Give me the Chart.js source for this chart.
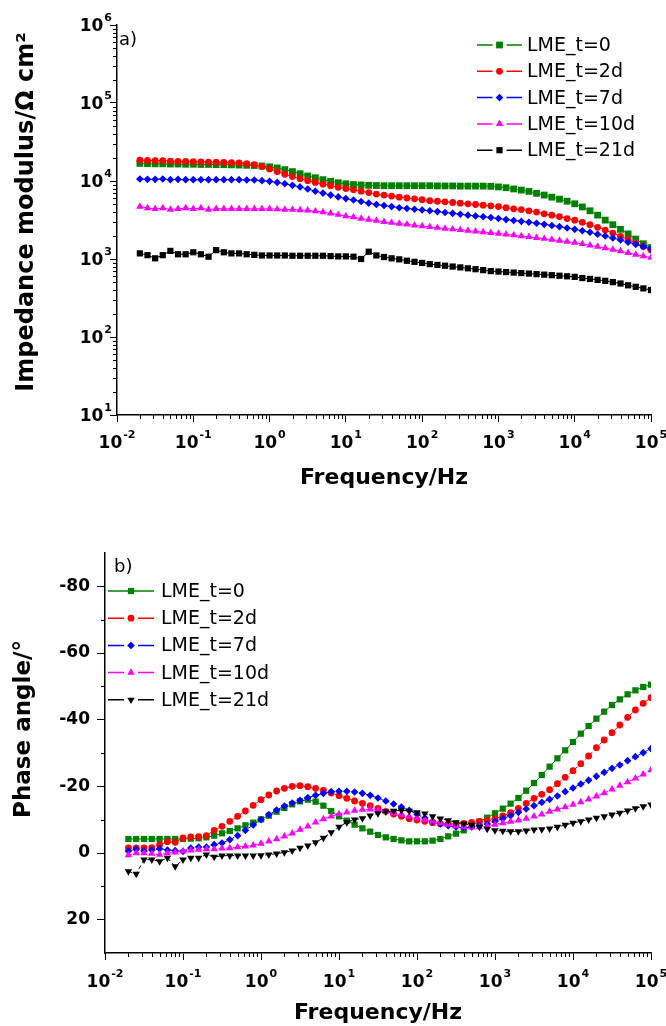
<!DOCTYPE html>
<html lang="en">
<head>
<meta charset="UTF-8">
<title>LME impedance spectra</title>
<script src="https://cdn.jsdelivr.net/npm/chart.js"></script>
<style>
  body { margin: 0; background: #fff; }
  canvas { position: absolute; left: 0; }
</style>
</head>
<body>
<canvas id="modulusChart" width="666" height="505" style="top:0"></canvas>
<canvas id="phaseChart" width="666" height="521" style="top:505px"></canvas>
<script>
// measured frequencies, Hz (10 points per decade)
const frequency = [0.01995, 0.02512, 0.03162, 0.03981, 0.05012, 0.0631, 0.07943,
  0.1, 0.1259, 0.1585, 0.1995, 0.2512, 0.3162, 0.3981, 0.5012, 0.631, 0.7943,
  1, 1.259, 1.585, 1.995, 2.512, 3.162, 3.981, 5.012, 6.31, 7.943,
  10, 12.59, 15.85, 19.95, 25.12, 31.62, 39.81, 50.12, 63.1, 79.43,
  100, 125.9, 158.5, 199.5, 251.2, 316.2, 398.1, 501.2, 631, 794.3,
  1000, 1259, 1585, 1995, 2512, 3162, 3981, 5012, 6310, 7943,
  10000, 12590, 15850, 19950, 25120, 31620, 39810, 50120, 63100, 79430, 100000];

const seriesLabels = ["LME_t=0", "LME_t=2d", "LME_t=7d", "LME_t=10d", "LME_t=21d"];

// |Z|, ohm cm2
const modulusT0 = [16800, 16700, 16600, 16600, 16500, 16500, 16400, 16400, 16300, 16300, 16200, 16200, 16100, 16000, 15900, 15800,
  15600, 15200, 14700, 14000, 13200, 12400, 11600, 11000, 10400, 9900, 9500, 9200, 9000, 8900, 8800, 8750,
  8700, 8700, 8700, 8700, 8700, 8700, 8700, 8650, 8650, 8650, 8600, 8600, 8600, 8600,
  8550, 8400, 8200, 7900, 7650, 7350, 6950, 6600, 6200, 5850, 5500, 5100, 4650, 4150, 3650, 3150, 2750, 2400, 2100, 1800, 1570, 1400];
const modulusT2 = [18500, 18400, 18200, 18300, 18000, 17900, 17800, 17700, 17600, 17500, 17400, 17300, 17200, 17000, 16700,
  16200, 15300, 14300, 13200, 12200, 11400, 10700, 10100, 9600, 9100, 8700, 8300, 8000, 7700, 7400, 7100,
  6800, 6600, 6400, 6200, 6050, 5900, 5750, 5600, 5500, 5400, 5300, 5200, 5100, 5000, 4900, 4800,
  4700, 4550, 4400, 4300, 4150, 4000, 3800, 3650, 3500, 3300, 3150, 2950, 2750, 2550, 2350, 2150, 1950, 1780, 1600, 1450, 1300];
const modulusT7 = [10600, 10500, 10500, 10600, 10400, 10500, 10400, 10400, 10400, 10400, 10400, 10400, 10400, 10400, 10300, 10300,
  10100, 9900, 9600, 9200, 8800, 8400, 7900, 7400, 7000, 6600, 6250, 5950, 5700, 5450, 5200, 5000,
  4850, 4700, 4550, 4450, 4350, 4250, 4150, 4050, 3950, 3850, 3750, 3650, 3560, 3480, 3400, 3300,
  3200, 3120, 3040, 2960, 2870, 2780, 2690, 2600, 2500, 2400, 2300, 2200, 2080, 1970, 1860, 1750, 1640, 1540, 1440, 1350];
const modulusT10 = [4700, 4500, 4400, 4500, 4300, 4400, 4500, 4400, 4500, 4300, 4400, 4400, 4400, 4400, 4400, 4400, 4400, 4400, 4350, 4300, 4300, 4250,
  4200, 4100, 4000, 3850, 3700, 3550, 3450, 3300, 3200, 3100, 3000, 2920, 2850, 2780, 2700, 2640, 2580, 2520, 2460, 2410, 2360, 2310, 2260, 2220,
  2170, 2120, 2070, 2020, 1970, 1920, 1870, 1820, 1770, 1720, 1670, 1620, 1560, 1500, 1440, 1380, 1320, 1260, 1200, 1140, 1090, 1040];
const modulusT21 = [1180, 1120, 1020, 1120, 1270, 1150, 1150, 1220, 1150, 1070, 1300, 1220, 1180, 1180, 1150, 1130, 1110,
  1110, 1110, 1110, 1100, 1100, 1100, 1100, 1100, 1090, 1080, 1080, 1070, 1000, 1240,
  1110, 1060, 1020, 990, 950, 920, 890, 860, 840, 820, 800, 780, 760, 740, 720, 700, 690, 680, 670, 660, 650, 640,
  630, 620, 610, 600, 590, 570, 555, 540, 525, 505, 485, 460, 440, 420, 400];

// phase angle, degrees
const phaseT0 = [-4.2, -4.2, -4.2, -4.2, -4.2, -4.2, -4.2, -4.2, -4.3, -4.4,
  -4.7, -5.2, -5.9, -6.6, -7.4, -8.3, -9.1, -10.1, -11.2, -12.4, -13.5, -14.6, -15.5, -16.0,
  -15.4, -14.2, -12.6, -11.0, -9.7, -8.5, -7.4, -6.4, -5.4, -4.7, -4.2, -3.8, -3.5, -3.5, -3.5, -3.7, -4.2, -5.0, -5.8, -6.8,
  -8.2, -9.4, -10.6, -11.9, -13.3, -14.8, -16.5, -18.7, -21.0, -23.4, -25.9, -28.4, -30.8, -33.3, -35.8, -38.1, -40.3, -42.4, -44.4, -46.1, -47.6, -48.8, -49.8, -50.5];
const phaseT2 = [-1.5, -1.5, -1.5, -1.6, -2.5, -3.4, -3.2, -4.5, -4.8, -4.9, -5.2, -6.8, -8.0, -9.5, -11.0, -12.6, -14.3,
  -16.0, -17.4, -18.6, -19.4, -20.0, -20.2, -19.9, -19.4, -18.8, -18.0, -17.2, -16.4, -15.6, -14.9, -14.2, -13.4, -12.5,
  -11.7, -11.0, -10.3, -9.9, -9.5, -9.1, -8.8, -8.7, -8.7, -8.9, -9.2, -9.5, -9.8, -10.3, -11.1, -12.1, -13.4,
  -14.9, -16.4, -17.6, -19.0, -20.8, -22.7, -24.7, -26.8, -29.1, -31.6, -33.9, -36.1, -38.4, -40.7, -42.9, -44.9, -46.6];
const phaseT7 = [-0.6, -1.1, -0.6, -0.9, -1.3, -0.9, -0.7, -0.5, -1.5, -1.8, -1.8, -2.5, -3.0, -4.0, -5.2, -6.8, -8.4,
  -10.0, -11.5, -12.9, -14.1, -15.0, -15.8, -16.6, -17.3, -17.9, -18.4, -18.5, -18.5, -18.3, -17.9, -17.3, -16.5, -15.6,
  -14.7, -13.8, -12.8, -11.6, -10.5, -9.5, -8.7, -8.2, -7.8, -7.6, -7.8, -8.2, -8.7, -9.5, -10.3, -11.2, -12.2,
  -13.2, -14.2, -15.2, -16.1, -17.1, -18.4, -19.5, -20.7, -21.8, -23.0, -24.2, -25.4, -26.4, -27.7, -28.9, -30.1, -31.3];
const phaseT10 = [0.6, 0.0, 0.0, 0.2, 0.5, 0.0, -0.2, -0.5, -0.8, -1.0, -1.2, -1.2, -1.4, -1.5, -1.8, -2.0, -2.3,
  -2.8, -3.5, -4.2, -5.0, -5.9, -7.0, -8.0, -9.2, -10.2, -11.0, -11.7, -12.2, -12.7, -13.0, -13.1, -12.8, -12.5,
  -12.0, -11.5, -11.0, -10.5, -10.0, -9.5, -9.0, -8.5, -8.1, -7.8, -7.7, -7.8, -8.1, -8.5, -9.0, -9.4, -9.8,
  -10.3, -11.0, -11.6, -12.4, -13.1, -13.8, -14.5, -15.3, -16.1, -17.0, -18.0, -19.1, -20.2, -21.3, -22.4, -23.6, -24.9];
const phaseT21 = [5.5, 6.3, 2.0, 2.0, 2.5, 1.5, 4.0, 2.0, 1.5, 1.5, 0.5, 1.2, 0.8, 0.8, 0.8, 0.8, 0.8,
  0.7, 0.5, 0.2, -0.2, -0.7, -1.5, -2.2, -3.2, -4.5, -6.2, -7.8, -9.2, -10.0, -10.4, -11.2, -11.9, -12.4,
  -12.6, -12.8, -12.6, -12.2, -11.8, -11.0, -10.3, -9.8, -9.2, -8.8, -8.4, -7.8, -7.2, -6.8, -6.6, -6.5, -6.5,
  -6.7, -7.0, -7.1, -7.3, -7.8, -8.4, -9.0, -9.5, -10.0, -10.5, -11.0, -11.5, -12.0, -12.7, -13.4, -14.0, -14.5];

// axis ticks
const freqDecades = [0.01, 0.1, 1, 10, 100, 1000, 10000, 100000];
const modulusDecades = [10, 100, 1000, 10000, 100000, 1000000];
const phaseTicks = [-80, -60, -40, -20, 0, 20];
const phaseMinorTicks = [-70, -50, -30, -10, 10];

const colors = ["#008000", "#ff0000", "#0000ff", "#ff00ff", "#000000"];
const FONT = "DejaVu Sans";
Chart.defaults.font.family = FONT;
Chart.defaults.color = "#000";

function minorsOf(decades) {
  let out = [];
  decades.slice(0, -1).forEach(d => {
    for (let m = 2; m <= 9; m++) out.push(d * m);
  });
  return out;
}

function buildSets(values, markers, dashes) {
  return values.map((vals, k) => ({
    label: seriesLabels[k],
    data: frequency.map((f, i) => ({ x: f, y: vals[i] })),
    borderColor: colors[k],
    backgroundColor: colors[k],
    borderWidth: 1,
    borderDash: dashes[k],
    pointStyle: markers[k][0],
    pointRadius: markers[k][1],
    pointRotation: markers[k][2] || 0,
    pointBorderWidth: 0,
    pointBackgroundColor: colors[k],
    order: values.length - k
  }));
}

function drawPower(ctx, value, x, y, align) {
  const exp = String(Math.round(Math.log10(value)));
  ctx.font = "bold 17px '" + FONT + "'";
  const wb = ctx.measureText("10").width;
  ctx.font = "bold 11px '" + FONT + "'";
  const ws = ctx.measureText(exp).width;
  const total = wb + ws + 1;
  const left = align === "right" ? x - total : x - total / 2;
  ctx.textAlign = "left";
  ctx.textBaseline = "alphabetic";
  ctx.font = "bold 17px '" + FONT + "'";
  ctx.fillText("10", left, y + 6);
  ctx.font = "bold 11px '" + FONT + "'";
  ctx.fillText(exp, left + wb + 1, y - 4);
}

const decor = {
  id: "decor",
  afterDraw(chart, args, opts) {
    const ctx = chart.ctx;
    const area = chart.chartArea;
    ctx.save();
    ctx.strokeStyle = "#000";
    ctx.fillStyle = "#000";
    ctx.lineWidth = 1;

    (opts.minor || []).forEach(m => {
      const scale = chart.scales[m.axis];
      m.values.forEach(v => {
        const p = Math.round(scale.getPixelForValue(v)) + 0.5;
        ctx.beginPath();
        if (scale.isHorizontal()) {
          ctx.moveTo(p, area.bottom);
          ctx.lineTo(p, area.bottom + m.length);
        } else {
          ctx.moveTo(area.left - m.length, p);
          ctx.lineTo(area.left, p);
        }
        ctx.stroke();
      });
    });

    (opts.powers || []).forEach(pw => {
      const scale = chart.scales[pw.axis];
      pw.values.forEach(v => {
        const p = scale.getPixelForValue(v);
        if (scale.isHorizontal()) drawPower(ctx, v, p, area.bottom + pw.offset, "center");
        else drawPower(ctx, v, area.left - pw.offset, p, "right");
      });
    });

    if (opts.yTitle) {
      const t = opts.yTitle;
      ctx.save();
      ctx.translate(t.x, t.y);
      ctx.rotate(-Math.PI / 2);
      ctx.font = "bold " + t.size + "px '" + FONT + "'";
      ctx.textAlign = "center";
      ctx.textBaseline = "middle";
      ctx.fillText(t.text, 0, 0);
      ctx.restore();
    }

    if (opts.tag) {
      ctx.font = "18px '" + FONT + "'";
      ctx.textAlign = "left";
      ctx.textBaseline = "middle";
      ctx.fillText(opts.tag.text, opts.tag.x, opts.tag.y);
    }

    const lg = opts.legend;
    if (lg) {
      chart.data.datasets.forEach((ds, k) => {
        const y = lg.y + k * lg.step;
        const cx = lg.x + lg.width / 2;
        ctx.strokeStyle = ds.borderColor;
        ctx.fillStyle = ds.borderColor;
        ctx.lineWidth = 1.5;
        ctx.beginPath();
        if (k === 0 && lg.solidFirst) {
          ctx.moveTo(lg.x, y); ctx.lineTo(lg.x + lg.width, y);
        } else {
          ctx.moveTo(lg.x, y); ctx.lineTo(cx - 7, y);
          ctx.moveTo(cx + 7, y); ctx.lineTo(lg.x + lg.width, y);
        }
        ctx.stroke();
        Chart.helpers.drawPoint(ctx, {
          pointStyle: ds.pointStyle,
          rotation: ds.pointRotation,
          radius: ds.pointRadius,
          borderWidth: 0
        }, cx, y);
        ctx.fillStyle = "#000";
        ctx.font = "19px '" + FONT + "'";
        ctx.textAlign = "left";
        ctx.textBaseline = "middle";
        ctx.fillText(ds.label, lg.textX, y + 1);
      });
    }
    ctx.restore();
  }
};

function axisBase(tickLength) {
  return {
    grid: { display: true, drawOnChartArea: false, drawTicks: true, tickLength: tickLength, color: "#000" },
    border: { display: true, color: "#000", width: 1.5 }
  };
}

// panel a: impedance modulus
new Chart(document.getElementById("modulusChart"), {
  type: "line",
  data: {
    datasets: buildSets(
      [modulusT0, modulusT2, modulusT7, modulusT10, modulusT21],
      [["rect", 4.8], ["circle", 3.4], ["rectRot", 3.8], ["triangle", 4.3], ["rect", 4.4]],
      [[], [], [], [], []]
    )
  },
  options: {
    responsive: false,
    animation: false,
    layout: { padding: { top: 25, right: 15, left: 0, bottom: 0 } },
    plugins: {
      legend: { display: false },
      tooltip: { enabled: false },
      decor: {
        minor: [
          { axis: "x", values: minorsOf(freqDecades), length: 4 },
          { axis: "y", values: minorsOf(modulusDecades), length: 4 }
        ],
        powers: [
          { axis: "x", values: freqDecades, offset: 27 },
          { axis: "y", values: modulusDecades, offset: 5 }
        ],
        yTitle: { text: "Impedance modulus/Ω cm²", x: 27, y: 212, size: 24 },
        tag: { text: "a)", x: 119, y: 40 },
        legend: { x: 477, y: 45, step: 26.3, width: 45, textX: 527, solidFirst: false }
      }
    },
    scales: {
      x: Object.assign(axisBase(7), {
        type: "logarithmic",
        min: 0.01,
        max: 100000,
        afterBuildTicks: s => { s.ticks = freqDecades.map(v => ({ value: v })); },
        afterFit: s => { s.height = 90; },
        ticks: { display: false },
        title: { display: true, text: "Frequency/Hz", font: { size: 22, weight: "bold" }, padding: { top: 0, bottom: 14 } }
      }),
      y: Object.assign(axisBase(7), {
        type: "logarithmic",
        min: 10,
        max: 1000000,
        afterBuildTicks: s => { s.ticks = modulusDecades.map(v => ({ value: v })); },
        afterFit: s => { s.width = 117; },
        ticks: { display: false }
      })
    }
  },
  plugins: [decor]
});

// panel b: phase angle
new Chart(document.getElementById("phaseChart"), {
  type: "line",
  data: {
    datasets: buildSets(
      [phaseT0, phaseT2, phaseT7, phaseT10, phaseT21],
      [["rect", 4.4], ["circle", 3.4], ["rectRot", 3.8], ["triangle", 4.3], ["triangle", 4.3, 180]],
      [[], [4, 3], [4, 3], [4, 3], [4, 3]]
    )
  },
  options: {
    responsive: false,
    animation: false,
    layout: { padding: { top: 48, right: 15, left: 0, bottom: 0 } },
    plugins: {
      legend: { display: false },
      tooltip: { enabled: false },
      decor: {
        minor: [
          { axis: "x", values: minorsOf(freqDecades), length: 4 },
          { axis: "y", values: phaseMinorTicks, length: 4 }
        ],
        powers: [
          { axis: "x", values: freqDecades, offset: 28 }
        ],
        yTitle: { text: "Phase angle/°", x: 24, y: 224, size: 23 },
        tag: { text: "b)", x: 114, y: 62 },
        legend: { x: 108, y: 86, step: 27.2, width: 46, textX: 161, solidFirst: true }
      }
    },
    scales: {
      x: Object.assign(axisBase(7), {
        type: "logarithmic",
        min: 0.01,
        max: 100000,
        afterBuildTicks: s => { s.ticks = freqDecades.map(v => ({ value: v })); },
        afterFit: s => { s.height = 73; },
        ticks: { display: false },
        title: { display: true, text: "Frequency/Hz", font: { size: 22, weight: "bold" }, padding: { top: 0, bottom: 0 } }
      }),
      y: Object.assign(axisBase(8), {
        type: "linear",
        reverse: true,
        min: -90,
        max: 30,
        afterBuildTicks: s => { s.ticks = phaseTicks.map(v => ({ value: v })); },
        afterFit: s => { s.width = 105; },
        ticks: { font: { size: 17, weight: "bold" }, padding: 7, color: "#000" }
      })
    }
  },
  plugins: [decor]
});
</script>
</body>
</html>
